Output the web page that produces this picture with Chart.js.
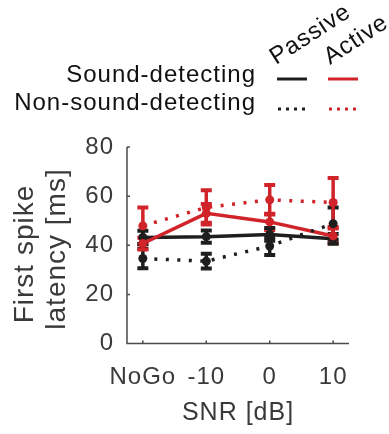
<!DOCTYPE html>
<html>
<head>
<meta charset="utf-8">
<script src="https://cdn.jsdelivr.net/npm/chart.js@4"></script>
<style>
  html, body { margin: 0; padding: 0; background: #fff; }
  #wrap { width: 389px; height: 434px; }
</style>
</head>
<body>
<div id="wrap"><canvas id="chart"></canvas></div>
<script>
// categories and values
const categories = ['NoGo', '-10', '0', '10']
const yTicks = [0, 20, 40, 60, 80]

const passiveSound = [43.2, 43.5, 44.4, 42.6]
const passiveSoundErr = [2.7, 2.5, 2.6, 2.0]
const activeSound = [40.7, 53.0, 49.5, 43.8]
const activeSoundErr = [2.4, 3.8, 3.3, 3.0]
const passiveNon = [34.6, 33.5, 39.7, 48.8]
const passiveNonErr = [4.0, 3.0, 3.7, 6.6]
const activeNon = [47.9, 55.4, 58.5, 57.4]
const activeNonErr = [7.5, 7.0, 6.0, 10.0]

const RED = '#d0232a'
const BLACK = '#1e1e1e'
const AXIS = '#4a4a4a'
const TEXT = '#3a3a3a'
const FONT = '"Liberation Sans", Arial, Helvetica, sans-serif'

const toPoints = (vals) => vals.map((v, i) => ({ x: i, y: v }))

function series(label, vals, errs, color, dotted) {
  return {
    label,
    data: toPoints(vals),
    errors: errs,
    borderColor: color,
    backgroundColor: color,
    borderWidth: 3.5,
    borderDash: dotted ? [3, 8.5] : [],
    pointRadius: 4.5,
    pointBackgroundColor: color,
    pointBorderWidth: 0,
    tension: 0
  }
}

// the reference font is a bit wider than Arial, so spread letters a little
const spacing = {
  id: 'spacing',
  beforeDraw(chart) { chart.ctx.letterSpacing = '1px' }
}

// error bars with caps, drawn through the chart scales
const errorBars = {
  id: 'errorBars',
  beforeDatasetsDraw(chart) {
    const { ctx, scales: { x, y } } = chart
    chart.data.datasets.forEach((ds) => {
      ctx.save()
      ctx.strokeStyle = ds.borderColor
      ds.data.forEach((p, i) => {
        const e = ds.errors[i]
        const px = x.getPixelForValue(p.x)
        const top = y.getPixelForValue(p.y + e)
        const bot = y.getPixelForValue(p.y - e)
        ctx.lineWidth = 3.5
        ctx.beginPath()
        ctx.moveTo(px, top)
        ctx.lineTo(px, bot)
        ctx.stroke()
        ctx.lineWidth = 4
        ctx.beginPath()
        ctx.moveTo(px - 5.5, top)
        ctx.lineTo(px + 5.5, top)
        ctx.moveTo(px - 5.5, bot)
        ctx.lineTo(px + 5.5, bot)
        ctx.stroke()
      })
      ctx.restore()
    })
  }
}

// axes lines, inward ticks, titles and the little legend on top
const decorations = {
  id: 'decorations',
  afterDraw(chart) {
    const { ctx, chartArea: a, scales: { x, y } } = chart
    ctx.save()
    ctx.letterSpacing = '1px'
    ctx.strokeStyle = AXIS
    ctx.lineWidth = 1.5
    ctx.beginPath()
    ctx.moveTo(a.left, y.getPixelForValue(80))
    ctx.lineTo(a.left, a.bottom)
    ctx.lineTo(a.right, a.bottom)
    yTicks.forEach((t) => {
      const py = y.getPixelForValue(t)
      ctx.moveTo(a.left, py)
      ctx.lineTo(a.left + 3, py)
    })
    categories.forEach((c, i) => {
      const px = x.getPixelForValue(i)
      ctx.moveTo(px, a.bottom)
      ctx.lineTo(px, a.bottom - 3)
    })
    ctx.stroke()

    ctx.fillStyle = TEXT
    ctx.font = '25px ' + FONT
    ctx.textAlign = 'center'
    ctx.textBaseline = 'alphabetic'
    ctx.fillText('SNR [dB]', 238, 420)

    ctx.font = '28px ' + FONT
    ctx.save()
    ctx.translate(33, 0)
    ctx.rotate(-Math.PI / 2)
    ctx.fillText('First spike', -254, 0)
    ctx.fillText('latency [ms]', -249, 32)
    ctx.restore()

    // legend
    ctx.fillStyle = '#111'
    ctx.font = '24px ' + FONT
    ctx.textAlign = 'right'
    ctx.fillText('Sound-detecting', 256, 82)
    ctx.fillText('Non-sound-detecting', 256, 110)

    const legendLine = (x0, x1, yy, color, dotted) => {
      ctx.beginPath()
      ctx.strokeStyle = color
      ctx.lineWidth = 3
      ctx.setLineDash(dotted ? [3, 5] : [])
      ctx.moveTo(x0, yy)
      ctx.lineTo(x1, yy)
      ctx.stroke()
    }
    legendLine(277, 307, 79, BLACK, false)
    legendLine(328, 358, 79, RED, false)
    legendLine(278, 307, 109, BLACK, true)
    legendLine(329, 358, 109, RED, true)
    ctx.setLineDash([])

    ctx.textAlign = 'left'
    const tilted = (text, tx, ty) => {
      ctx.save()
      ctx.translate(tx, ty)
      ctx.rotate(-33 * Math.PI / 180)
      ctx.fillText(text, 0, 0)
      ctx.restore()
    }
    tilted('Passive', 276, 65)
    tilted('Active', 330, 65)
    ctx.restore()
  }
}

new Chart(document.getElementById('chart').getContext('2d'), {
  type: 'line',
  data: {
    datasets: [
      series('Passive non-sound-detecting', passiveNon, passiveNonErr, BLACK, true),
      series('Active non-sound-detecting', activeNon, activeNonErr, RED, true),
      series('Active sound-detecting', activeSound, activeSoundErr, RED, false),
      series('Passive sound-detecting', passiveSound, passiveSoundErr, BLACK, false)
    ]
  },
  options: {
    responsive: true,
    maintainAspectRatio: false,
    animation: false,
    layout: { padding: { top: 147, right: 40, bottom: 0, left: 0 } },
    plugins: {
      legend: { display: false },
      tooltip: { enabled: false }
    },
    scales: {
      x: {
        type: 'linear',
        min: -0.25,
        max: 3.25,
        afterFit: (s) => { s.height = 90.5 },
        afterBuildTicks: (s) => { s.ticks = categories.map((c, i) => ({ value: i })) },
        grid: { display: false, drawTicks: false },
        border: { display: false },
        ticks: {
          padding: 19,
          color: TEXT,
          font: { size: 24, family: FONT },
          maxRotation: 0,
          callback: (v) => categories[v]
        }
      },
      y: {
        min: 0,
        max: 80,
        afterFit: (s) => { s.width = 127 },
        afterBuildTicks: (s) => { s.ticks = yTicks.map((v) => ({ value: v })) },
        grid: { display: false, drawTicks: false },
        border: { display: false },
        ticks: {
          padding: 13,
          color: TEXT,
          font: { size: 24, family: FONT }
        }
      }
    }
  },
  plugins: [spacing, errorBars, decorations]
})
</script>
</body>
</html>
